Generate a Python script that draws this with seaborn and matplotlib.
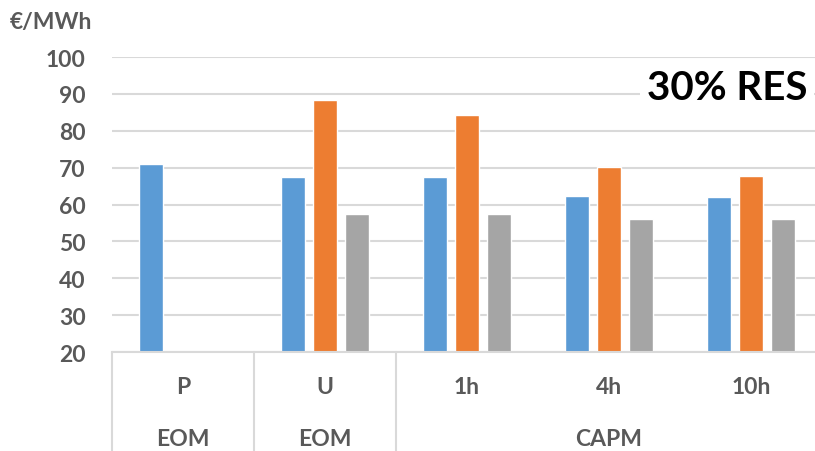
import numpy as np
import pandas as pd
import matplotlib
matplotlib.use("Agg")
import matplotlib.pyplot as plt
import seaborn as sns

# Average price per market design, three scenarios per design
categories = ["P", "U", "1h", "4h", "10h"]
market_labels = ["EOM", "EOM", "CAPM"]
market_spans = [(0, 0), (1, 1), (2, 4)]
series_names = ["s1", "s2", "s3"]
s1_values = [71.1, 67.4, 67.4, 62.4, 62.0]
s2_values = [np.nan, 88.4, 84.2, 70.1, 67.8]
s3_values = [np.nan, 57.5, 57.5, 56.0, 56.0]
y_ticks = [20, 30, 40, 50, 60, 70, 80, 90, 100]
unit_label = "€/MWh"
title_text = "30% RES"

colors = ["#5B9BD5", "#ED7D31", "#A5A5A5"]
grid_color = "#D9D9D9"
text_color = "#595959"

rows = []
for name, vals in zip(series_names, [s1_values, s2_values, s3_values]):
    for cat, v in zip(categories, vals):
        rows.append({"category": cat, "series": name, "value": v})
df = pd.DataFrame(rows).dropna()

sns.set_style("white")
plt.rcParams["font.family"] = ["Lato", "DejaVu Sans"]

W, H = 815, 452
fig = plt.figure(figsize=(W / 100, H / 100), dpi=100)
ax_left, ax_right, ax_top, ax_bottom = 112, 815, 58, 353
ax = fig.add_axes([ax_left / W, 1 - ax_bottom / H,
                   (ax_right - ax_left) / W, (ax_bottom - ax_top) / H])

sns.barplot(data=df, x="category", y="value", hue="series",
            order=categories, hue_order=series_names, palette=colors,
            saturation=1, width=0.666, gap=0.24, errorbar=None,
            legend=False, ax=ax, zorder=2)

cat_px = 142.0
ax.set_xlim(-0.5, -0.5 + (ax_right - ax_left) / cat_px)
ax.set_ylim(y_ticks[0], y_ticks[-1])
ax.set_yticks(y_ticks)
ax.set_yticklabels([str(t) for t in y_ticks])
ax.set_xticks([])
ax.set_xlabel("")
ax.set_ylabel("")
ax.yaxis.grid(True, color=grid_color, linewidth=1.5)
ax.set_axisbelow(True)
for side in ["left", "right", "top"]:
    ax.spines[side].set_visible(False)
ax.spines["bottom"].set_color(grid_color)
ax.spines["bottom"].set_linewidth(1.5)
ax.tick_params(axis="y", length=0, pad=19, labelsize=16.5,
               labelcolor=text_color)
for lbl in ax.get_yticklabels():
    lbl.set_fontweight("bold")

# Two-level category table under the plot
axis_h = ax_bottom - ax_top
trans = ax.get_xaxis_transform()
line_bottom = -(H - ax_bottom) / axis_h
for start, _ in market_spans:
    ax.plot([start - 0.5, start - 0.5], [0, line_bottom], transform=trans,
            color=grid_color, linewidth=1.5, clip_on=False)
ax.plot([len(categories) - 0.5] * 2, [0, line_bottom], transform=trans,
        color=grid_color, linewidth=1.5, clip_on=False)

cat_y = -(388 - ax_bottom) / axis_h
mkt_y = -(440 - ax_bottom) / axis_h
for i, cat in enumerate(categories):
    ax.text(i, cat_y, cat, transform=trans, ha="center", va="center",
            fontsize=16.5, fontweight="bold", color=text_color)
for lbl, (a, b) in zip(market_labels, market_spans):
    ax.text((a + b) / 2, mkt_y, lbl, transform=trans, ha="center",
            va="center", fontsize=16.5, fontweight="bold", color=text_color)

fig.text(10 / W, 1 - 22 / H, unit_label, ha="left", va="center",
         fontsize=16.5, fontweight="bold", color=text_color)

fig.text(647 / W, 1 - 88 / H, title_text, ha="left", va="center",
         fontsize=29, fontweight="bold", color="black", zorder=5,
         bbox=dict(facecolor="white", edgecolor="none", pad=5))

fig.savefig("out.png", dpi=100, facecolor="white")
